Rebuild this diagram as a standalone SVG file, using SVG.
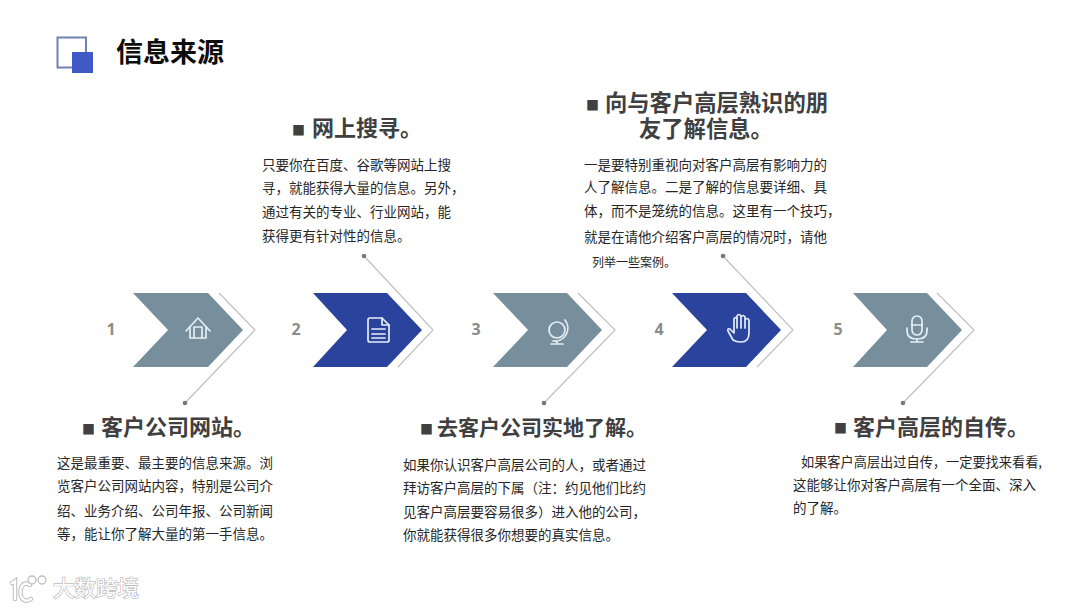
<svg xmlns="http://www.w3.org/2000/svg" width="1080" height="608" viewBox="0 0 1080 608">
<style>
text{font-family:"Noto Sans CJK SC","Noto Sans",sans-serif}
.h{font-size:22px;font-weight:700;fill:#404040}
.s{font-size:13px}
.b{font-size:13.5px;fill:#262626}
.n{font-size:16px;font-weight:700;fill:#8c8c8c;font-family:"Open Sans","Noto Sans",sans-serif;text-anchor:middle}
.g{fill:#778f9d}
.d{fill:#2a439c}
.c{fill:none;stroke:#c4bfbf;stroke-width:1.2}
.dot{fill:#777}
.i{fill:none;stroke:#e6eef5;stroke-width:1.7;stroke-linejoin:round;stroke-linecap:round}
.w{font-size:21.5px;fill:#fff;stroke:#bdbdbd;stroke-width:1.4;paint-order:stroke}
.l1{fill:none;stroke:#bdbdbd;stroke-width:4.500;stroke-linecap:round}
.l2{fill:none;stroke:#fff;stroke-width:2.500;stroke-linecap:round}
.l3{fill:#fff;stroke:#bdbdbd;stroke-width:1.300}
</style>
<rect width="1080" height="608" fill="#fff"/>
<g id="title">
<rect x="57.500" y="37.500" width="28.500" height="30" fill="#fff" stroke="#7080b4" stroke-width="2"/>
<rect x="72" y="52" width="21" height="21" fill="#4059c4"/>
<text x="116" y="62" font-size="27" font-weight="700" fill="#0d0d0d">信息来源</text>
</g>
<g id="connectors">
<polyline class="c" points="219,293 255,330 185,403"/>
<polyline class="c" points="364,256 433,330 398,367"/>
<polyline class="c" points="578,293 615,330 544,403"/>
<polyline class="c" points="723,256 793,330 757,367"/>
<polyline class="c" points="937,293 974,330 903,403"/>
<circle class="dot" cx="185" cy="403" r="2.300"/>
<circle class="dot" cx="364" cy="256" r="2.300"/>
<circle class="dot" cx="544" cy="403" r="2.300"/>
<circle class="dot" cx="723" cy="256" r="2.300"/>
<circle class="dot" cx="903" cy="403" r="2.300"/>
</g>
<g id="step1">
<text class="n" x="111" y="335">1</text>
<polygon class="g" points="133,293 208,293 243,330 208,367 133,367 168,330"/>
<g class="i"><path d="M186,331 L198,318 L210,331"/><path d="M190,327V338H206V327"/><path d="M194,338V327H202V338"/></g>
<text class="h"><tspan class="s" x="82" y="434">■</tspan><tspan x="101" y="435">客户公司网站。</tspan></text>
<text class="b" x="57" y="468">这是最重要、最主要的信息来源。浏</text>
<text class="b" x="57" y="491">览客户公司网站内容，特别是公司介</text>
<text class="b" x="57" y="516">绍、业务介绍、公司年报、公司新闻</text>
<text class="b" x="57" y="539">等，能让你了解大量的第一手信息。</text>
</g>
<g id="step2">
<text class="n" x="296" y="335">2</text>
<polygon class="d" points="313,293 387,293 422,330 387,367 313,367 347,330"/>
<g class="i"><path d="M370,318H382L389,325V340Q389,342 387,342H370Q368,342 368,340V320Q368,318 370,318Z"/><path d="M382,318V325H389M372,329H385M372,334H385M372,338H385"/></g>
<text class="h"><tspan class="s" x="292" y="135">■</tspan><tspan x="312" y="136">网上搜寻。</tspan></text>
<text class="b" x="262" y="170">只要你在百度、谷歌等网站上搜</text>
<text class="b" x="262" y="193">寻，就能获得大量的信息。另外，</text>
<text class="b" x="262" y="217">通过有关的专业、行业网站，能</text>
<text class="b" x="262" y="241">获得更有针对性的信息。</text>
</g>
<g id="step3">
<text class="n" x="476" y="335">3</text>
<polygon class="g" points="493,293 567,293 602,330 567,367 493,367 528,330"/>
<g class="i"><circle cx="557" cy="330" r="8"/><path d="M565,320A13,13 0 0 1 553,341M557,341V344M551,344H563"/></g>
<text class="h" style="font-size:21px"><tspan class="s" x="420" y="434">■</tspan><tspan x="437" y="435">去客户公司实地了解。</tspan></text>
<text class="b" x="403" y="470">如果你认识客户高层公司的人，或者通过</text>
<text class="b" x="403" y="493">拜访客户高层的下属（注：约见他们比约</text>
<text class="b" x="403" y="517">见客户高层要容易很多）进入他的公司，</text>
<text class="b" x="403" y="540">你就能获得很多你想要的真实信息。</text>
</g>
<g id="step4">
<text class="n" x="659" y="335">4</text>
<polygon class="d" points="672,293 746,293 781,330 746,367 672,367 707,330"/>
<path class="i" stroke-width="2" d="M733,340L728,331Q727,328 730,329L734,333V319Q735,316 737,319V328V316Q739,313 741,316V328V317Q743,314 745,317V328V320Q747,317 749,320V333Q749,342 741,342Q736,342 733,340Z"/>
<text class="h" style="font-size:22.3px"><tspan class="s" x="586" y="110">■</tspan><tspan x="605" y="111">向与客户高层熟识的朋</tspan></text>
<text class="h" x="639" y="137" style="font-size:22.3px">友了解信息。</text>
<text class="b" x="584" y="170">一是要特别重视向对客户高层有影响力的</text>
<text class="b" x="584" y="192">人了解信息。二是了解的信息要详细、具</text>
<text class="b" x="584" y="216">体，而不是笼统的信息。这里有一个技巧，</text>
<text class="b" x="584" y="242">就是在请他介绍客户高层的情况时，请他</text>
<text class="b" x="592" y="267" style="font-size:12px">列举一些案例。</text>
</g>
<g id="step5">
<text class="n" x="838" y="335">5</text>
<polygon class="g" points="853,293 927,293 962,330 927,367 853,367 887,330"/>
<g class="i"><rect x="912" y="316" width="10" height="19" rx="5"/><path d="M907,328V331Q907,339 917,339Q927,339 927,331V328M917,339V342M911,342H923M912,325H922"/></g>
<text class="h"><tspan class="s" x="834" y="433">■</tspan><tspan x="853" y="435">客户高层的自传。</tspan></text>
<text class="b" x="801" y="467" style="font-size:13.2px">如果客户高层出过自传，一定要找来看看,</text>
<text class="b" x="793" y="490">这能够让你对客户高层有一个全面、深入</text>
<text class="b" x="793" y="513">的了解。</text>
</g>
<g id="watermark">
<path class="l1" d="M12,583L15,581V599M30,585Q24,581 21,588Q19,597 24,600Q27,602 31,599"/>
<path class="l2" d="M12,583L15,581V599M30,585Q24,581 21,588Q19,597 24,600Q27,602 31,599"/>
<circle class="l3" cx="32" cy="580" r="4"/>
<circle class="l3" cx="42" cy="580" r="4"/>
<text class="w" x="53" y="596">大数跨境</text>
</g>
</svg>
